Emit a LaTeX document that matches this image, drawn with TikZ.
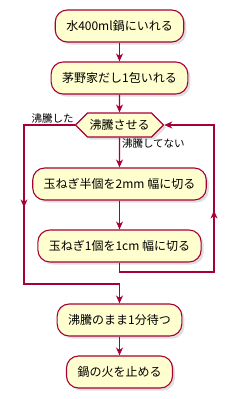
\documentclass[tikz,border=0pt]{standalone}
\usepackage{fontspec}
\setmainfont{Noto Sans CJK JP}
\usetikzlibrary{shapes.symbols,shadows,arrows.meta,decorations.markings}

\begin{document}
\begin{tikzpicture}[x=1pt, y=-1pt]
  % Styles
  \tikzset{
    act/.style={draw=umlred, fill=umlyellow, line width=1.1pt, rounded corners=12pt,
      minimum height=32pt, inner xsep=11pt, font=\fontsize{12}{14}\selectfont,
      drop shadow={shadow xshift=2.5pt, shadow yshift=-2.5pt, opacity=0.25}},
    choice/.style={draw=umlred, fill=umlyellow, line width=1.1pt, signal,
      signal to=west and east, minimum height=24pt, minimum width=73pt, inner xsep=2pt,
      font=\fontsize{12}{14}\selectfont,
      drop shadow={shadow xshift=2.5pt, shadow yshift=-2.5pt, opacity=0.25}},
    flow/.style={draw=umlred, line width=1.1pt, -{Stealth[length=8pt, width=7pt, inset=2.5pt]}},
    midarrow/.style={postaction={decorate}, decoration={markings,
      mark=at position #1 with {\arrow{Stealth[length=8pt, width=7pt, inset=2.5pt]}}}},
    lbl/.style={font=\fontsize{10.5}{12}\selectfont, inner sep=1pt},
  }
  \definecolor{umlred}{HTML}{A80036}
  \definecolor{umlyellow}{HTML}{FEFECE}

  \useasboundingbox (0,0) rectangle (241,399);

  % Actions
  \node[act] (water) at (119.5,26) {水400ml鍋にいれる};
  \node[act] (dashi) at (119.5,78) {茅野家だし1包いれる};
  \node[choice] (boil) at (119.5,125) {沸騰させる};
  \node[act] (half) at (119.5,184) {玉ねぎ半個を2mm 幅に切る};
  \node[act] (one) at (119.5,246) {玉ねぎ1個を1cm 幅に切る};
  \node[act] (wait) at (119.5,320) {沸騰のまま1分待つ};
  \node[act] (stop) at (119.5,372) {鍋の火を止める};

  % Points de passage
  \coordinate (loopbot) at (119.5,272);
  \coordinate (loopright) at (214,272);
  \coordinate (exitleft) at (24,125);
  \coordinate (exitbot) at (24,284);
  \coordinate (merge) at (119.5,284);

  % Connecteurs
  \draw[flow] (water) -- (dashi);
  \draw[flow] (dashi) -- (boil);
  \draw[flow] (boil) -- node[lbl, pos=0.2, right=1pt, anchor=west] {沸騰してない} (half);
  \draw[flow] (half) -- (one);
  \draw[flow, midarrow=0.55] (one) -- (loopbot) -- (loopright) |- (boil.east);
  \draw[flow, midarrow=0.41] (boil.west) -- (exitleft) -- (exitbot) -- (merge) -- (wait);
  \draw[flow] (wait) -- (stop);

  % Etiquette de sortie
  \node[lbl, anchor=south east] (boiled) at (boil.west) {沸騰した};
\end{tikzpicture}
\end{document}
